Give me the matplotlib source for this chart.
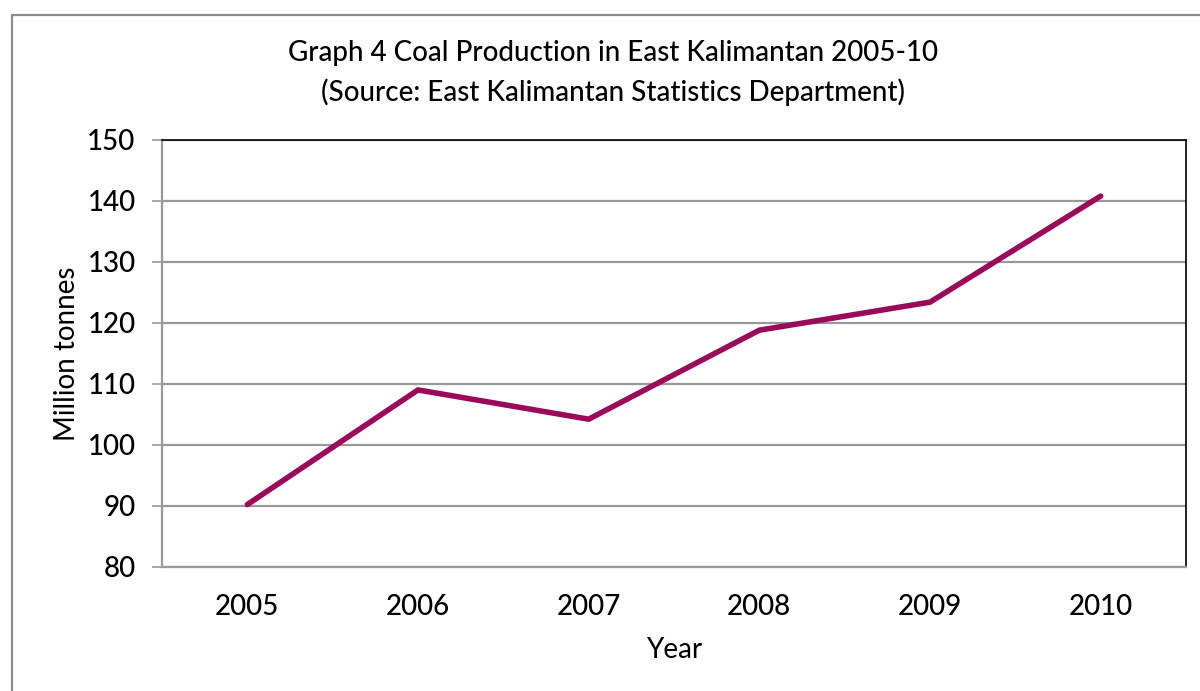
import matplotlib
matplotlib.use('Agg')
from matplotlib import pyplot as plt
from matplotlib.patches import Rectangle

years = ['2005', '2006', '2007', '2008', '2009', '2010']
production = [90.2, 109.0, 104.2, 118.8, 123.4, 140.8]

plt.rcParams['font.family'] = ['Lato', 'DejaVu Sans']
plt.rcParams['font.weight'] = 'medium'

fig = plt.figure(figsize=(12, 6.91), dpi=100)
ax = fig.add_axes([162 / 1200, 1 - 566.7 / 691, (1186 - 162) / 1200, (566.7 - 140) / 691])

x = range(len(years))
ax.plot(x, production, color='#9b0a5a', linewidth=4.0, solid_capstyle='round', zorder=3)

ax.set_xlim(-0.5, len(years) - 0.5)
ax.set_ylim(80, 150)
ax.set_yticks(range(80, 151, 10))
ax.set_xticks(list(x))
ax.set_xticklabels(years)
ax.yaxis.grid(True, color='#999999', linewidth=1.6)
ax.set_axisbelow(True)

ax.tick_params(axis='y', length=7, width=1.2, color='#999999', labelsize=20, pad=12)
ax.tick_params(axis='x', length=0, labelsize=20, pad=20)
ax.spines['left'].set_color('#999999')
ax.spines['bottom'].set_color('#999999')
ax.spines['left'].set_linewidth(1.6)
ax.spines['bottom'].set_linewidth(1.6)
ax.spines['top'].set_color('black')
ax.spines['right'].set_color('black')
ax.spines['top'].set_linewidth(1.2)
ax.spines['right'].set_linewidth(1.2)

ax.set_xlabel('Year', fontsize=20, labelpad=12)
ax.set_ylabel('Million tonnes', fontsize=20, labelpad=5)

fig.text(613 / 1200, 1 - 73 / 691,
         'Graph 4 Coal Production in East Kalimantan 2005-10\n(Source: East Kalimantan Statistics Department)',
         ha='center', va='center', fontsize=20, linespacing=1.55)

fig.patches.append(Rectangle((12 / 1200, -0.1), 1.2, 1.1 - 15 / 691,
                             transform=fig.transFigure, fill=False,
                             edgecolor='#8c8c8c', linewidth=1.6))

plt.savefig('out.png', dpi=100)
